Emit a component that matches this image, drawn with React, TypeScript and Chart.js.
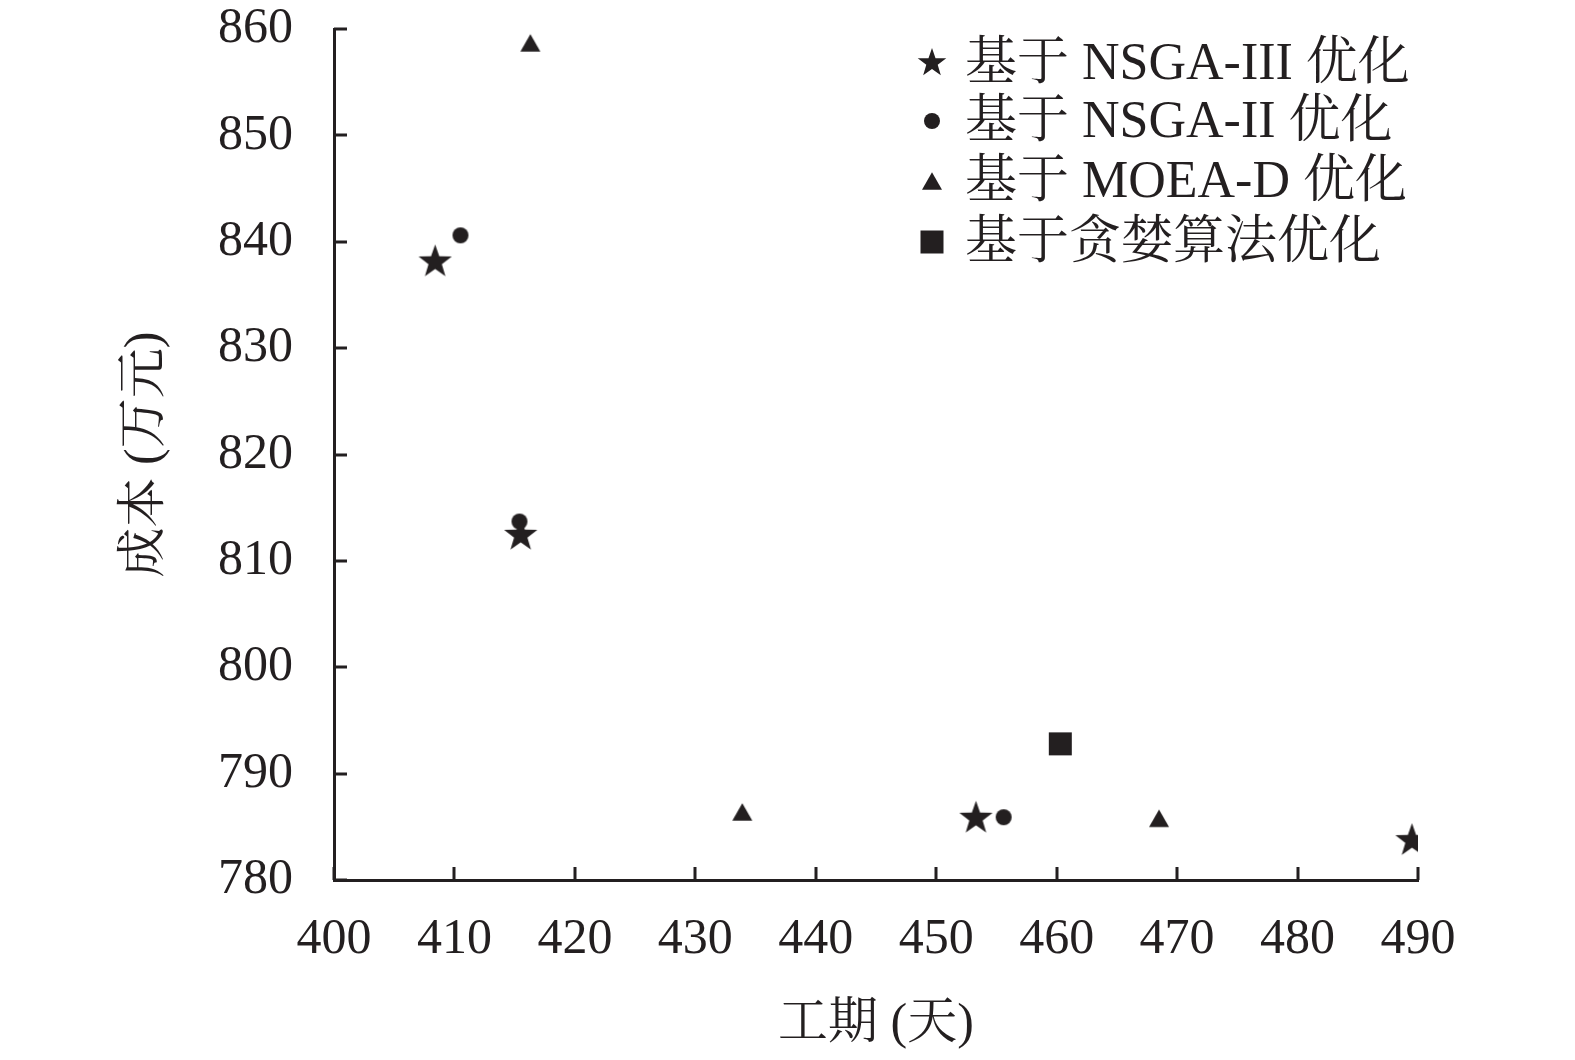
import React, { useEffect, useRef } from 'react';
import { Chart, registerables } from 'chart.js';

Chart.register(...registerables);

// ---- data ----
const nsga3X = [408.4, 415.5, 453.3, 489.5];
const nsga3Y = [838.1, 812.4, 785.8, 783.7];
const nsga2X = [410.5, 415.4, 455.6];
const nsga2Y = [840.6, 813.7, 785.9];
const moeadX = [416.3, 433.9, 468.5];
const moeadY = [858.7, 786.4, 785.8];
const greedyX = [460.3];
const greedyY = [792.8];

const seriesLabels = ['基于 NSGA-III 优化', '基于 NSGA-II 优化', '基于 MOEA-D 优化', '基于贪婪算法优化'];
const xTickValues = [400, 410, 420, 430, 440, 450, 460, 470, 480, 490];
const yTickValues = [780, 790, 800, 810, 820, 830, 840, 850, 860];
const xTitle = '工期 (天)';
const yTitle = '成本 (万元)';

const INK = '#231f20';
const FONT = "'Liberation Serif', 'Times New Roman', 'Noto Serif CJK SC', 'Noto Sans CJK SC', serif";

type Kind = 'star' | 'circle' | 'triangle' | 'square';

function makeMarker(kind: Kind, size: number): HTMLCanvasElement {
  const c = document.createElement('canvas');
  const dim = Math.ceil(size) + 4;
  c.width = dim;
  c.height = dim;
  const g = c.getContext('2d')!;
  const cx = dim / 2;
  const cy = dim / 2;
  g.fillStyle = INK;
  g.beginPath();
  if (kind === 'star') {
    const R = size / 2;
    const r = R * 0.4;
    for (let i = 0; i < 10; i++) {
      const rad = i % 2 === 0 ? R : r;
      const a = -Math.PI / 2 + (i * Math.PI) / 5;
      const px = cx + rad * Math.cos(a);
      const py = cy + rad * Math.sin(a);
      if (i === 0) g.moveTo(px, py);
      else g.lineTo(px, py);
    }
    g.closePath();
  } else if (kind === 'circle') {
    g.arc(cx, cy, size / 2, 0, Math.PI * 2);
  } else if (kind === 'triangle') {
    const w = size;
    const h = size * 0.87;
    g.moveTo(cx, cy - h / 2);
    g.lineTo(cx + w / 2, cy + h / 2);
    g.lineTo(cx - w / 2, cy + h / 2);
    g.closePath();
  } else {
    g.rect(cx - size / 2, cy - size / 2, size, size);
  }
  g.fill();
  return c;
}

function zip(xs: number[], ys: number[]) {
  return xs.map((x, i) => ({ x, y: ys[i] }));
}

export default function App() {
  const ref = useRef<HTMLCanvasElement | null>(null);

  useEffect(() => {
    if (!ref.current) return;
    const plotMarkers = [
      makeMarker('star', 35),
      makeMarker('circle', 16),
      makeMarker('triangle', 20),
      makeMarker('square', 23),
    ];
    const legendMarkers = [
      makeMarker('star', 30),
      makeMarker('circle', 16),
      makeMarker('triangle', 20),
      makeMarker('square', 23),
    ];

    const decoPlugin = {
      id: 'deco',
      afterDraw(chart: any) {
        const { ctx, chartArea, scales } = chart;
        ctx.save();
        ctx.strokeStyle = INK;
        ctx.lineWidth = 3;
        ctx.beginPath();
        scales.x.ticks.forEach((t: any) => {
          const px = Math.round(scales.x.getPixelForValue(t.value));
          ctx.moveTo(px, chartArea.bottom);
          ctx.lineTo(px, chartArea.bottom - 13);
        });
        scales.y.ticks.forEach((t: any) => {
          const py = Math.round(scales.y.getPixelForValue(t.value));
          ctx.moveTo(chartArea.left, py);
          ctx.lineTo(chartArea.left + 13, py);
        });
        ctx.stroke();

        // legend
        const mx = 932;
        const tx = 965;
        const rows = [63, 121, 181, 242];
        ctx.fillStyle = INK;
        ctx.font = `52px ${FONT}`;
        ctx.textBaseline = 'middle';
        ctx.textAlign = 'left';
        seriesLabels.forEach((label, i) => {
          const m = legendMarkers[i];
          ctx.drawImage(m, mx - m.width / 2, rows[i] - m.height / 2);
          ctx.fillText(label, tx, rows[i] + 2);
        });
        ctx.restore();
      },
    };

    const chart = new Chart(ref.current, {
      type: 'scatter',
      data: {
        datasets: [
          { label: seriesLabels[0], data: zip(nsga3X, nsga3Y), pointStyle: plotMarkers[0] as any, pointRadius: 17 },
          { label: seriesLabels[1], data: zip(nsga2X, nsga2Y), pointStyle: plotMarkers[1] as any, pointRadius: 8 },
          { label: seriesLabels[2], data: zip(moeadX, moeadY), pointStyle: plotMarkers[2] as any, pointRadius: 10 },
          { label: seriesLabels[3], data: zip(greedyX, greedyY), pointStyle: plotMarkers[3] as any, pointRadius: 11 },
        ],
      },
      options: {
        animation: false,
        responsive: false,
        devicePixelRatio: 1,
        layout: { padding: { top: 29, right: 157, left: 0, bottom: 0 } },
        plugins: {
          legend: { display: false },
          tooltip: { enabled: false },
        },
        scales: {
          x: {
            type: 'linear',
            min: 400,
            max: 490,
            afterFit: (s: any) => {
              s.height = 180;
              s.paddingLeft = 0;
              s.paddingRight = 0;
              s.paddingTop = 0;
              s.paddingBottom = 0;
            },
            afterBuildTicks: (s: any) => {
              s.ticks = xTickValues.map((v) => ({ value: v }));
            },
            grid: { display: false, drawTicks: false },
            border: { display: true, color: INK, width: 3 },
            ticks: {
              color: INK,
              padding: 30,
              maxRotation: 0,
              font: { family: FONT, size: 50, lineHeight: 1.2 },
            },
            title: {
              display: true,
              text: xTitle,
              color: INK,
              font: { family: FONT, size: 50, lineHeight: 1.2 },
              padding: { top: 0, bottom: 5 },
            },
          },
          y: {
            type: 'linear',
            min: 780,
            max: 860,
            afterFit: (s: any) => {
              s.width = 334;
              s.paddingLeft = 0;
              s.paddingRight = 0;
              s.paddingTop = 0;
              s.paddingBottom = 0;
            },
            afterBuildTicks: (s: any) => {
              s.ticks = yTickValues.map((v) => ({ value: v }));
            },
            grid: { display: false, drawTicks: false },
            border: { display: true, color: INK, width: 3 },
            ticks: {
              color: INK,
              padding: 41,
              font: { family: FONT, size: 50, lineHeight: 1.0 },
            },
            title: {
              display: true,
              text: yTitle,
              color: INK,
              font: { family: FONT, size: 50, lineHeight: 1.2 },
              padding: { top: 116, bottom: 0 },
            },
          },
        },
      },
      plugins: [decoPlugin],
    });
    return () => chart.destroy();
  }, []);

  return (
    <div style={{ position: 'absolute', left: 0, top: 0, width: 1575, height: 1060, background: '#fff' }}>
      <canvas ref={ref} width={1575} height={1060} style={{ display: 'block' }} />
    </div>
  );
}
